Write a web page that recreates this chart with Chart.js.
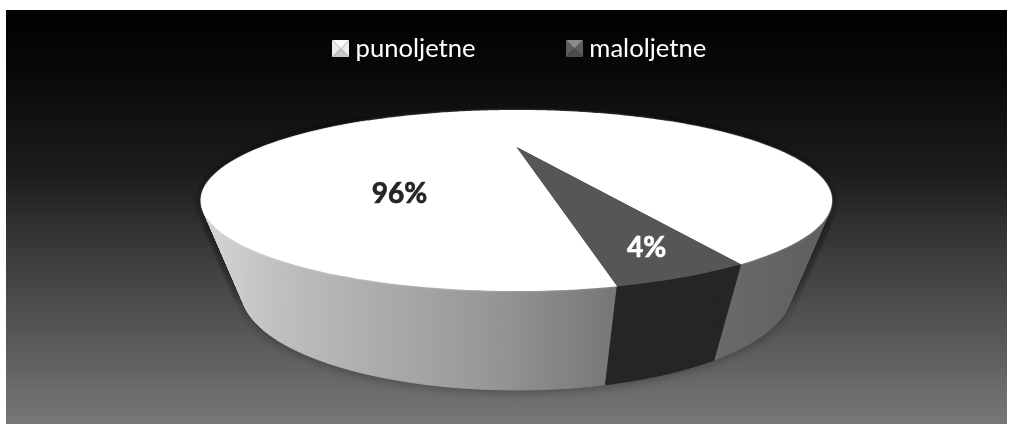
<!DOCTYPE html>
<html><head><meta charset="utf-8">
<style>html,body{margin:0;padding:0;background:#fff}canvas{display:block}</style>
<script src="https://cdn.jsdelivr.net/npm/chart.js@4"></script></head>
<body><div style="width:1014px;height:424px"><canvas id="c" width="1014" height="424"></canvas></div>
<script>
const categories = ['punoljetne', 'maloljetne'];
const values = [96, 4];
const valueLabels = ['96%', '4%'];
const topColors = ['#ffffff', '#565656'];

// perspective of the pie: unit circle -> screen, for the top and for the base
const TOP = {cx:516.5, cy:147, rx:254.5, ry:58.9, k:0.591};
const BASE = {cx:516.5, cy:232.5, rx:220, ry:63, k:0.6};
function proj(a, r, G){
  G = G || TOP;
  const u = r*Math.cos(a), v = r*Math.sin(a), w = 1 - G.k*v;
  return [G.cx + G.rx*u/w, G.cy + G.ry*v/w];
}
function arcPts(a0, a1, G){
  const n = Math.max(2, Math.ceil(Math.abs(a1-a0)/(Math.PI/180))), pts=[];
  for(let i=0;i<=n;i++) pts.push(proj(a0+(a1-a0)*i/n,1,G));
  return pts;
}
function path(ctx, pts){ ctx.beginPath(); pts.forEach((p,i)=> i?ctx.lineTo(p[0],p[1]):ctx.moveTo(p[0],p[1])); ctx.closePath(); }

function bevel(t,l,r,b){
  const c=document.createElement('canvas'); c.width=c.height=17; const x=c.getContext('2d');
  const tri=(col,pts)=>{x.fillStyle=col;x.beginPath();pts.forEach((p,i)=>i?x.lineTo(p[0],p[1]):x.moveTo(p[0],p[1]));x.closePath();x.fill();};
  tri(t,[[0,0],[17,0],[8.5,8.5]]); tri(l,[[0,0],[0,17],[8.5,8.5]]); tri(r,[[17,0],[17,17],[8.5,8.5]]); tri(b,[[0,17],[17,17],[8.5,8.5]]);
  return c;
}
const markers = [bevel('#fafafa','#ececec','#ececec','#c8c8c8'), bevel('#8a8a8a','#5c5c5c','#5c5c5c','#4c4c4c')];

const backdrop = { id:'backdrop', beforeDraw(chart){
  const {ctx}=chart; const g=ctx.createLinearGradient(0,10,0,424);
  [[0,'#000'],[0.17,'#0a0a0a'],[0.39,'#1c1c1c'],[0.58,'#3a3a3a'],[0.77,'#555'],[1,'#777']].forEach(s=>g.addColorStop(s[0],s[1]));
  ctx.save(); ctx.fillStyle='#fff'; ctx.fillRect(0,0,1014,424); ctx.fillStyle=g; ctx.fillRect(6,10,1001,414); ctx.restore();
}};

const pie3d = { id:'pie3d', beforeDatasetsDraw(chart){
  const {ctx}=chart, arcs=chart.getDatasetMeta(0).data;
  const spans=arcs.map(a=>[a.startAngle,a.endAngle]);
  ctx.save();
  // shadow under the body: drawn from the wall strips
  const wall=ctx.createLinearGradient(201,0,832,0);
  [[0,'#d6d6d6'],[0.15,'#bcbcbc'],[0.45,'#989898'],[0.66,'#767676'],[0.85,'#686868'],[1,'#5e5e5e']].forEach(s=>wall.addColorStop(s[0],s[1]));
  const strips=(sp,shadowPass)=>{
    const n=Math.ceil(Math.abs(sp[1]-sp[0])/(Math.PI/180));
    for(let j=0;j<n;j++){
      const a0=sp[0]+(sp[1]-sp[0])*j/n, a1=sp[0]+(sp[1]-sp[0])*(j+1)/n;
      if(Math.sin((a0+a1)/2)<-0.6) continue;
      path(ctx,[proj(a0,1),proj(a1,1),proj(a1,1,BASE),proj(a0,1,BASE)]); ctx.fill();
      if(!shadowPass) ctx.stroke();
    }
  };
  ctx.save(); ctx.shadowColor='rgba(0,0,0,0.28)'; ctx.shadowBlur=9; ctx.shadowOffsetY=2; ctx.fillStyle='#555';
  spans.forEach(sp=>strips(sp,true)); ctx.restore();
  // walls
  ctx.lineWidth=0.9;
  spans.forEach((sp,i)=>{ ctx.fillStyle=ctx.strokeStyle = i===1 ? '#242525' : wall; strips(sp,false); });
  // top faces
  spans.forEach((sp,i)=>{
    const pts=[proj(0,0),...arcPts(sp[0],sp[1])];
    ctx.save();
    if(i===0){ctx.shadowColor='rgba(255,255,255,0.45)';ctx.shadowBlur=2;}
    ctx.fillStyle=topColors[i]; path(ctx,pts); ctx.fill(); ctx.restore();
  });
  // value labels
  ctx.textAlign='center'; ctx.textBaseline='middle'; ctx.font='bold 28px Lato, Carlito, sans-serif'; ctx.lineWidth=0.7; ctx.lineJoin='round';
  ctx.fillStyle=ctx.strokeStyle='#262626'; ctx.fillText(valueLabels[0],399.5,194); ctx.strokeText(valueLabels[0],399.5,194);
  const mid=(spans[1][0]+spans[1][1])/2, l=proj(mid,0.886);
  ctx.fillStyle=ctx.strokeStyle='#ffffff'; ctx.fillText(valueLabels[1],l[0],l[1]+1); ctx.strokeText(valueLabels[1],l[0],l[1]+1);
  ctx.restore();
  return false;
}};

new Chart(document.getElementById('c'),{
  type:'pie',
  data:{labels:categories,datasets:[{data:values,backgroundColor:topColors,borderWidth:0}]},
  plugins:[backdrop,pie3d],
  options:{
    responsive:false, animation:false, rotation:170.5,
    layout:{padding:{left:31,top:-61}},
    plugins:{
      tooltip:{enabled:false},
      legend:{position:'top',labels:{
        color:'#ffffff',font:{family:'Lato, Carlito, sans-serif',size:25.6},
        usePointStyle:true,pointStyleWidth:4,boxWidth:4,padding:97,
        generateLabels(){return categories.map((t,i)=>({text:t,pointStyle:markers[i],fontColor:'#fff',datasetIndex:0,index:i,hidden:false,lineWidth:0}));}
      }}
    }
  }
});
</script></body></html>
